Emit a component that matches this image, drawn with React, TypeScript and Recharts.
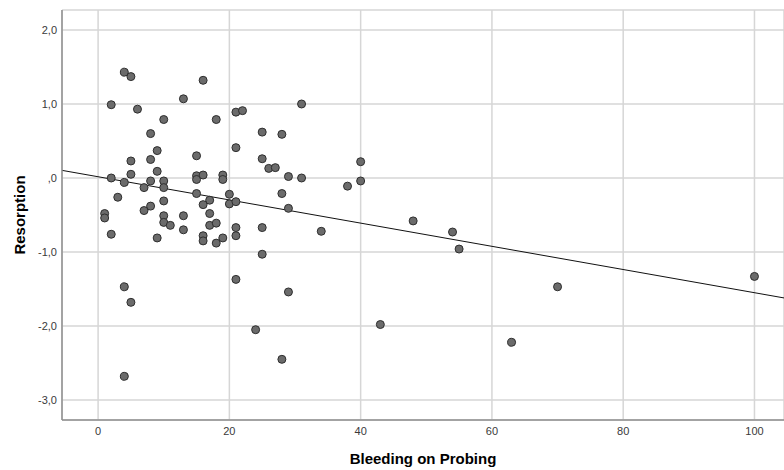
import React from "react";
import {
  CartesianGrid,
  Label,
  ReferenceLine,
  Scatter,
  ScatterChart,
  XAxis,
  YAxis,
} from "recharts";

// bleeding on probing (%) per subject
const bopValues = [
  4, 5, 16, 2, 13, 6, 10, 18, 21, 22, 31, 8, 25, 28, 21, 9, 5, 8, 15, 25, 26, 27,
  9, 5, 2, 29, 31, 15, 15, 16, 19, 19, 10, 10, 8, 4, 7, 3, 15, 20, 20, 21, 17, 16,
  28, 29, 1, 1, 7, 8, 10, 13, 10, 11, 17, 17, 18, 13, 21, 21, 25, 2, 9, 16, 16, 18,
  19, 34, 25, 10, 4, 5, 21, 24, 4, 29, 28, 40, 40, 38, 48, 54, 55, 43, 63, 70, 100,
];

// resorption score per subject (same order)
const resorptionValues = [
  1.43, 1.37, 1.32, 0.99, 1.07, 0.93, 0.79, 0.79, 0.89, 0.91, 1.0, 0.6, 0.62, 0.59,
  0.41, 0.37, 0.23, 0.25, 0.3, 0.26, 0.13, 0.14, 0.09, 0.05, 0.0, 0.02, 0.0, 0.03,
  -0.02, 0.04, 0.04, -0.02, -0.04, -0.13, -0.04, -0.06, -0.13, -0.26, -0.21, -0.22,
  -0.35, -0.32, -0.3, -0.36, -0.21, -0.41, -0.48, -0.54, -0.44, -0.38, -0.51, -0.51,
  -0.6, -0.64, -0.48, -0.64, -0.61, -0.7, -0.67, -0.78, -0.67, -0.76, -0.81, -0.78,
  -0.85, -0.88, -0.81, -0.72, -1.03, -0.31, -1.47, -1.68, -1.37, -2.05, -2.68, -1.54,
  -2.45, 0.22, -0.04, -0.11, -0.58, -0.73, -0.96, -1.98, -2.22, -1.47, -1.33,
];

const xTicks = [0, 20, 40, 60, 80, 100];
const yTicks = [-3, -2, -1, 0, 1, 2];
const xDomain = [-5.5, 104.5];
const yDomain = [-3.27, 2.27];

// fit line
const fitIntercept = 0.017;
const fitSlope = -0.01567;

const points = bopValues.map((x, i) => ({ x, y: resorptionValues[i] }));

function commaDecimal(v: number) {
  if (v === 0) return ",0";
  return v.toFixed(1).replace(".", ",");
}

const tickStyle = { fontSize: 11, fill: "#3a3a3a" };

export default function App() {
  return (
    <div style={{ position: "absolute", left: 0, top: 0, background: "#fff" }}>
      <ScatterChart
        width={784}
        height={470}
        margin={{ top: 10, right: 0, bottom: 0, left: 0 }}
        style={{ fontFamily: "'Liberation Sans', Arial, sans-serif" }}
      >
        <CartesianGrid stroke="#d6d6d6" strokeWidth={1.5} />
        <XAxis
          type="number"
          dataKey="x"
          domain={xDomain}
          ticks={xTicks}
          allowDataOverflow
          height={50}
          tickLine={false}
          tickSize={0}
          tickMargin={7}
          tick={tickStyle}
          axisLine={{ stroke: "#8f8f8f", strokeWidth: 1.5 }}
        >
          <Label
            content={() => (
              <text
                x={423}
                y={458}
                textAnchor="middle"
                dominantBaseline="central"
                fontSize={15}
                fontWeight="bold"
                fill="#000"
              >
                Bleeding on Probing
              </text>
            )}
          />
        </XAxis>
        <YAxis
          type="number"
          dataKey="y"
          domain={yDomain}
          ticks={yTicks}
          allowDataOverflow
          width={62}
          tickLine={false}
          tickSize={0}
          tickMargin={5}
          tick={tickStyle}
          tickFormatter={commaDecimal}
          axisLine={{ stroke: "#8f8f8f", strokeWidth: 1.5 }}
        >
          <Label
            content={() => (
              <text
                x={19}
                y={215}
                transform="rotate(-90 19 215)"
                textAnchor="middle"
                dominantBaseline="central"
                fontSize={15}
                fontWeight="bold"
                fill="#000"
              >
                Resorption
              </text>
            )}
          />
        </YAxis>
        <ReferenceLine
          segment={[
            { x: xDomain[0], y: fitIntercept + fitSlope * xDomain[0] },
            { x: xDomain[1], y: fitIntercept + fitSlope * xDomain[1] },
          ]}
          stroke="#111"
          strokeWidth={1}
          ifOverflow="hidden"
        />
        <Scatter
          data={points}
          isAnimationActive={false}
          shape={(p: any) => (
            <circle cx={p.cx} cy={p.cy} r={4} fill="#6b6b6b" stroke="#2e2e2e" strokeWidth={1} />
          )}
        />
      </ScatterChart>
    </div>
  );
}
